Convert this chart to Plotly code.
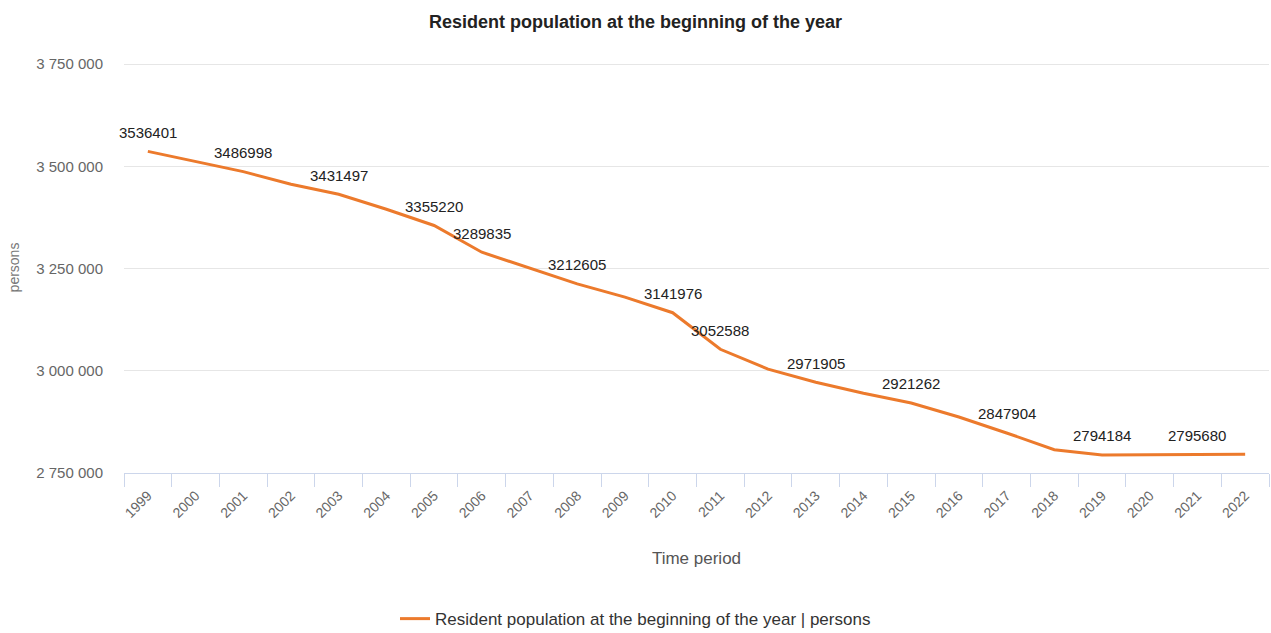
import plotly.graph_objects as go

# Resident population at the beginning of each year
years = [str(y) for y in range(1999, 2023)]
population = [
    3536401, 3512000, 3486998, 3456000, 3431497, 3395000, 3355220, 3289835,
    3252000, 3212605, 3180000, 3141976, 3052588, 3004000, 2971905, 2945000,
    2921262, 2887000, 2847904, 2807000, 2794184, 2794300, 2795680, 2796000,
]
# Years whose value is printed above the line
labelled_years = ["1999", "2001", "2003", "2005", "2006", "2008", "2010",
                  "2011", "2013", "2015", "2017", "2019", "2021"]

y_ticks = [2750000, 3000000, 3250000, 3500000, 3750000]

LINE_COLOR = "#EC7A2C"
FONT = "Liberation Sans, Arial, sans-serif"

series_name = "Resident population at the beginning of the year | persons"

fig = go.Figure()
fig.add_trace(go.Scatter(
    x=years, y=population, mode="lines", name=series_name,
    line=dict(color=LINE_COLOR, width=3),
    showlegend=True,
))

# value labels: positioned by category index on the category axis
for i, (yr, val) in enumerate(zip(years, population)):
    if yr in labelled_years:
        fig.add_annotation(
            x=i, y=val, xref="x", yref="y", text=str(val), showarrow=False,
            yshift=19, font=dict(family=FONT, size=15, color="#222222"),
        )

fig.update_layout(
    width=1271, height=633,
    paper_bgcolor="white", plot_bgcolor="white",
    margin=dict(l=124, r=2, t=62, b=160, autoexpand=False),
    separators=". ",
    font=dict(family=FONT, color="#666666"),
    title=dict(
        text="<b>Resident population at the beginning of the year</b>",
        x=0.5, xanchor="center", y=0.965, yanchor="middle",
        font=dict(family=FONT, size=18, color="#222222"),
    ),
    legend=dict(
        orientation="h",
        xref="container", x=0.5, xanchor="center",
        yref="container", y=0.022, yanchor="middle",
        font=dict(family=FONT, size=17, color="#333333"),
        itemwidth=30,
    ),
    showlegend=True,
)

fig.update_xaxes(
    type="category", range=[-0.5, len(years) - 0.5],
    automargin=False,
    tickson="boundaries", ticks="outside", ticklen=13,
    tickcolor="#ccd6eb", tickwidth=1,
    showline=True, linecolor="#ccd6eb", linewidth=1,
    showgrid=False, tickangle=-45, ticklabelstandoff=8,
    tickfont=dict(family=FONT, size=14, color="#666666"),
    title=dict(text="Time period", standoff=32,
               font=dict(family=FONT, size=17, color="#555555")),
)

fig.update_yaxes(
    range=[2750000, 3755000], tickvals=y_ticks, tickformat=",d",
    automargin=False,
    showgrid=True, gridcolor="#e6e6e6", gridwidth=1,
    zeroline=False, showline=False, ticks="",
    ticklabelstandoff=20,
    tickfont=dict(family=FONT, size=15, color="#666666"),
    title=dict(text="persons", standoff=13,
               font=dict(family=FONT, size=14, color="#777777")),
)

fig.write_html("out.html")
